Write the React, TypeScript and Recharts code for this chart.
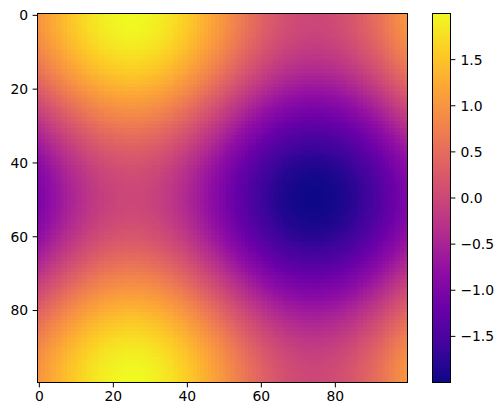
import React from 'react';
import { Bar, BarChart, Scatter, ScatterChart, XAxis, YAxis } from 'recharts';

// The picture is a sum of a left-right profile and a top-bottom profile,
// so the 100x100 cells are built from these two lists.
const columnProfile = [
    0.00, 0.06, 0.13, 0.19, 0.25, 0.31, 0.37, 0.43, 0.49, 0.54,
    0.59, 0.64, 0.69, 0.73, 0.78, 0.81, 0.85, 0.88, 0.91, 0.93,
    0.95, 0.97, 0.98, 0.99, 1.00, 1.00, 1.00, 0.99, 0.98, 0.96,
    0.94, 0.92, 0.90, 0.87, 0.83, 0.80, 0.76, 0.71, 0.67, 0.62,
    0.57, 0.51, 0.46, 0.40, 0.34, 0.28, 0.22, 0.16, 0.10, 0.03,
    -0.03, -0.10, -0.16, -0.22, -0.28, -0.34, -0.40, -0.46, -0.51, -0.57,
    -0.62, -0.67, -0.71, -0.76, -0.80, -0.83, -0.87, -0.90, -0.92, -0.94,
    -0.96, -0.98, -0.99, -1.00, -1.00, -1.00, -0.99, -0.98, -0.97, -0.95,
    -0.93, -0.91, -0.88, -0.85, -0.81, -0.78, -0.73, -0.69, -0.64, -0.59,
    -0.54, -0.49, -0.43, -0.37, -0.31, -0.25, -0.19, -0.13, -0.06, 0.00,
];

const rowProfile = [
    1.00, 1.00, 0.99, 0.98, 0.97, 0.95, 0.93, 0.90, 0.87, 0.84,
    0.80, 0.77, 0.72, 0.68, 0.63, 0.58, 0.53, 0.47, 0.42, 0.36,
    0.30, 0.24, 0.17, 0.11, 0.05, -0.02, -0.08, -0.14, -0.20, -0.27,
    -0.33, -0.39, -0.44, -0.50, -0.55, -0.61, -0.65, -0.70, -0.75, -0.79,
    -0.82, -0.86, -0.89, -0.92, -0.94, -0.96, -0.98, -0.99, -1.00, -1.00,
    -1.00, -1.00, -0.99, -0.98, -0.96, -0.94, -0.92, -0.89, -0.86, -0.82,
    -0.79, -0.75, -0.70, -0.65, -0.61, -0.55, -0.50, -0.44, -0.39, -0.33,
    -0.27, -0.20, -0.14, -0.08, -0.02, 0.05, 0.11, 0.17, 0.24, 0.30,
    0.36, 0.42, 0.47, 0.53, 0.58, 0.63, 0.68, 0.72, 0.77, 0.80,
    0.84, 0.87, 0.90, 0.93, 0.95, 0.97, 0.98, 0.99, 1.00, 1.00,
];

const axisTicks = [0, 20, 40, 60, 80];
const colorbarTicks = [-1.5, -1, -0.5, 0, 0.5, 1, 1.5];
const colorbarRange = [-2, 2];
const plasma = [
    '#0d0887', '#41049d', '#6a00a8', '#8f0da4', '#b12a90', '#cc4778',
    '#e16462', '#f2844b', '#fca636', '#fcce25', '#f0f921',
];

const font = { fontFamily: 'DejaVu Sans', fontSize: 13.9, fill: '#000' };
const tickLine = { stroke: '#000', strokeWidth: 1 };
const cellSize = 3.7;

const hexToRgb = (hex: string) => [1, 3, 5].map((i) => parseInt(hex.slice(i, i + 2), 16));

function plasmaColor(value: number) {
    const t = Math.min(1, Math.max(0, (value + 2) / 4)) * (plasma.length - 1);
    const low = Math.min(Math.floor(t), plasma.length - 2);
    const a = hexToRgb(plasma[low]);
    const b = hexToRgb(plasma[low + 1]);
    const mix = a.map((c, i) => Math.round(c + (b[i] - c) * (t - low)));
    return `rgb(${mix.join(',')})`;
}

const cells = rowProfile.flatMap((rowValue, y) =>
    columnProfile.map((colValue, x) => ({ x, y, value: colValue + rowValue })),
);

const colorbarData = [{ name: 'v', range: colorbarRange }];

const CellShape = ({ cx, cy, payload }: any) => (
    <rect
        x={cx - cellSize / 2}
        y={cy - cellSize / 2}
        width={cellSize + 0.3}
        height={cellSize + 0.3}
        fill={plasmaColor(payload.value)}
        shapeRendering="crispEdges"
    />
);

const formatTick = (v: number) => {
    const text = Math.abs(v).toFixed(1);
    return v < 0 ? `\u2212${text}` : text;
};

const Frame = ({ left, width }: { left: number; width: number }) => (
    <div
        style={{
            position: 'absolute',
            left,
            top: 13,
            width,
            height: 370,
            boxSizing: 'border-box',
            border: '1px solid #000',
            pointerEvents: 'none',
        }}
    />
);

export default function App() {
    return (
        <div style={{ position: 'absolute', left: 0, top: 0, width: 503, height: 416, overflow: 'hidden', background: '#fff' }}>
            <div style={{ position: 'absolute', left: 0, top: 0 }}>
                <ScatterChart width={420} height={416} margin={{ top: 13.5, right: 12.5, bottom: 0, left: 0 }}>
                    <XAxis
                        type="number"
                        dataKey="x"
                        domain={[-0.5, 99.5]}
                        ticks={axisTicks}
                        interval={0}
                        height={33.5}
                        tickSize={4.9}
                        tickMargin={4}
                        tick={font}
                        tickLine={tickLine}
                        axisLine={false}
                        allowDataOverflow
                    />
                    <YAxis
                        type="number"
                        dataKey="y"
                        reversed
                        domain={[-0.5, 99.5]}
                        ticks={axisTicks}
                        interval={0}
                        width={37.5}
                        tickSize={4.9}
                        tickMargin={4.5}
                        tick={font}
                        tickLine={tickLine}
                        axisLine={false}
                        allowDataOverflow
                    />
                    <Scatter data={cells} shape={<CellShape />} isAnimationActive={false} />
                </ScatterChart>
            </div>
            <div style={{ position: 'absolute', left: 420, top: 0 }}>
                <BarChart
                    width={83}
                    height={416}
                    data={colorbarData}
                    barCategoryGap={0}
                    margin={{ top: 13.5, right: 0, bottom: 33.5, left: 12.5 }}
                >
                    <defs>
                        <linearGradient id="plasmaGradient" x1="0" y1="1" x2="0" y2="0">
                            {plasma.map((color, i) => (
                                <stop key={color} offset={`${(i / (plasma.length - 1)) * 100}%`} stopColor={color} />
                            ))}
                        </linearGradient>
                    </defs>
                    <XAxis dataKey="name" hide />
                    <YAxis
                        orientation="right"
                        type="number"
                        domain={colorbarRange}
                        ticks={colorbarTicks}
                        interval={0}
                        width={52.5}
                        tickSize={4.9}
                        tickMargin={5}
                        tick={{ ...font, textAnchor: 'start' }}
                        tickLine={tickLine}
                        tickFormatter={formatTick}
                        axisLine={false}
                        allowDataOverflow
                    />
                    <Bar dataKey="range" fill="url(#plasmaGradient)" isAnimationActive={false} />
                </BarChart>
            </div>
            <Frame left={37} width={371} />
            <Frame left={432} width={19} />
        </div>
    );
}
